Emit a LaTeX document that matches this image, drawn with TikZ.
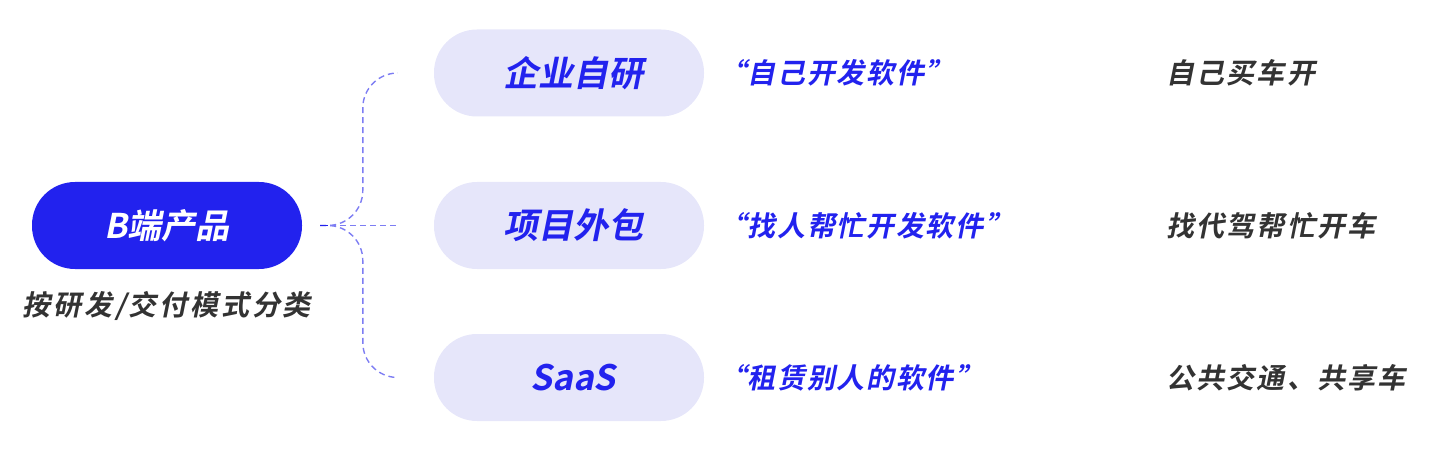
\documentclass[tikz,border=0pt]{standalone}
\usepackage{fontspec}
\usepackage{tikz}
\usetikzlibrary{positioning, calc}
\newfontfamily\cjkbold{Noto Sans CJK SC Bold}[FakeSlant=0.2]
\newfontfamily\cjkquote{Noto Sans CJK SC Bold}[FakeSlant=0.2, LetterSpace=6]
\newfontfamily\cjknote{Noto Sans CJK SC Bold}[FakeSlant=0.2, LetterSpace=8]
\newfontfamily\cjkcap{Noto Sans CJK SC Bold}[FakeSlant=0.2, LetterSpace=10]
\definecolor{bblue}{RGB}{34,34,238}
\definecolor{lav}{RGB}{230,230,250}
\definecolor{dashblue}{RGB}{125,125,243}
\definecolor{ink}{RGB}{51,51,51}

\begin{document}
\begin{tikzpicture}[x=1pt, y=-1pt,
    pill/.style={rounded corners=43pt, minimum width=270pt, minimum height=87pt, inner sep=0pt},
    bpill/.style={pill, fill=bblue, text=white, font=\cjkbold\fontsize{34}{34}\selectfont},
    mpill/.style={pill, fill=lav, text=bblue, font=\cjkbold\fontsize{35}{35}\selectfont},
    quote/.style={anchor=west, inner sep=0pt, text=bblue, font=\cjkquote\fontsize{28}{28}\selectfont},
    note/.style={anchor=west, inner sep=0pt, text=ink, font=\cjknote\fontsize{28}{28}\selectfont},
    caption/.style={inner sep=0pt, text=ink, font=\cjkcap\fontsize{28}{28}\selectfont},
    link/.style={dashblue, line width=1.4pt, dash pattern=on 6pt off 4pt}]
    \useasboundingbox (0,0) rectangle (1451,449);

    \node[bpill] (b) at (167,225.5) {B端产品};
    \node[caption] (cls) at (167,306) {按研发/交付模式分类};

    \node[mpill] (own) at (569,73) {\hspace*{8pt}企业自研};
    \node[mpill] (out) at (569,225.5) {\hspace*{8pt}项目外包};
    \node[mpill] (saas) at (569,377.5) {\hspace*{8pt}SaaS};

    \node[quote] (q1) at (718,73) {“自己开发软件”};
    \node[quote] (q2) at (718,225.5) {“找人帮忙开发软件”};
    \node[quote] (q3) at (718,377.5) {“租赁别人的软件”};

    \node[note] (n1) at (1166,73) {自己买车开};
    \node[note] (n2) at (1166,225.5) {找代驾帮忙开车};
    \node[note] (n3) at (1166,377.5) {公共交通、共享车};

    \coordinate (hub) at ($(b.east)+(18,0)$);
    \coordinate (e1) at ($(own.west)+(-36,0)$);
    \coordinate (e2) at ($(out.west)+(-36,0)$);
    \coordinate (e3) at ($(saas.west)+(-36,0)$);

    \draw[link] (hub) -- (e2);
    \draw[link, rounded corners=35pt] (hub) -| ($(e1)+(-35,0)$) -- (e1);
    \draw[link, rounded corners=35pt] (hub) -| ($(e3)+(-35,0)$) -- (e3);
    \draw[bblue, line width=1.4pt] (hub) -- ++(8,0);
\end{tikzpicture}
\end{document}
